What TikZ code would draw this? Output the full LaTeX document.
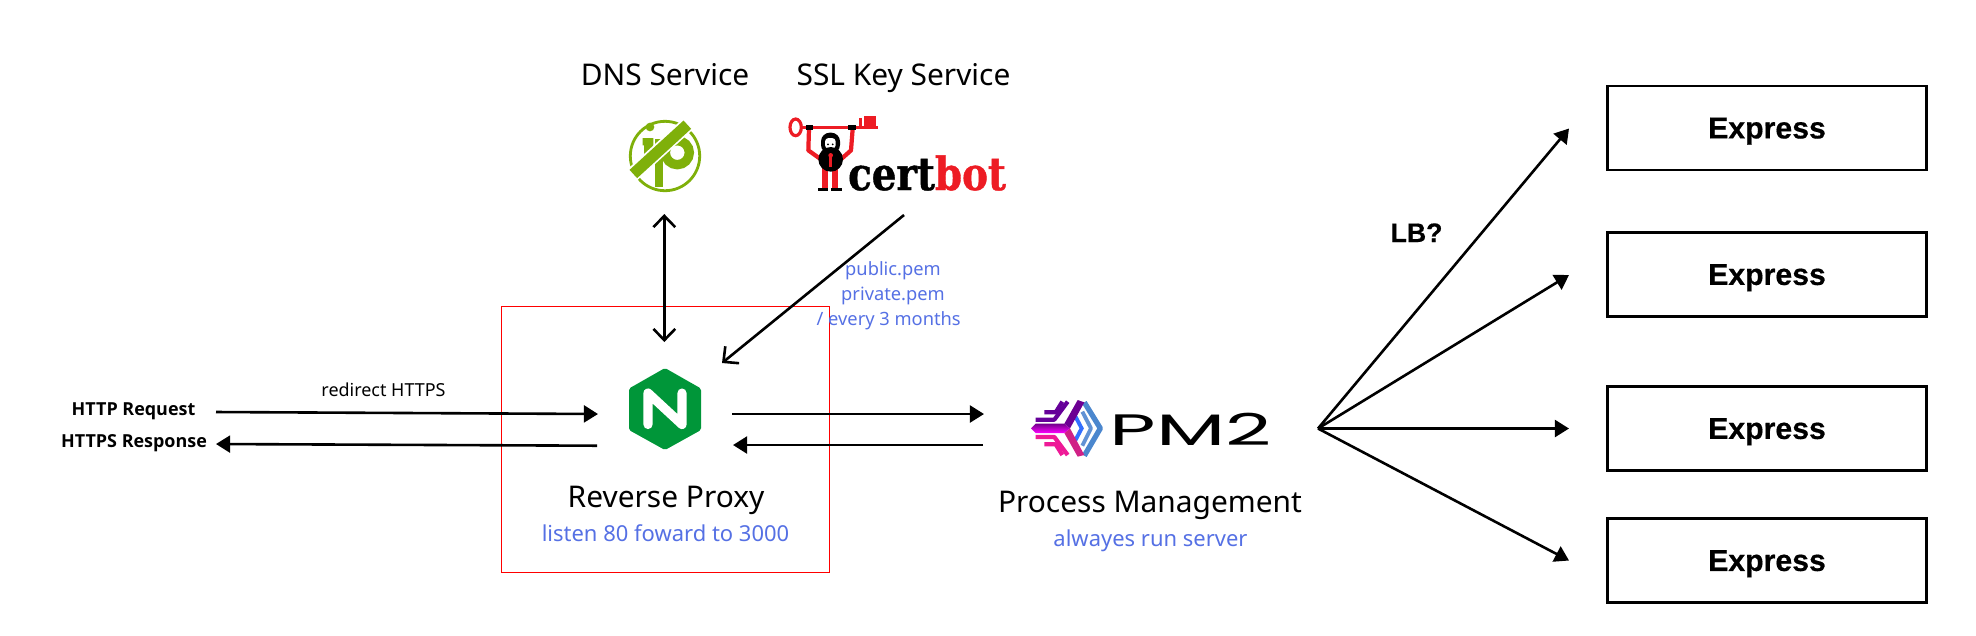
\documentclass[tikz,border=0pt]{standalone}
\usepackage{fontspec}
\usepackage{xcolor}
\setmainfont{Noto Sans}
\newfontfamily\sidefont{Open Sans}
\newfontfamily\boxfont{Liberation Sans}[BoldFeatures={FakeBold=.5}]
\newfontfamily\certfont{DejaVu Serif}[BoldFeatures={FakeBold=1}]
\newfontfamily\pmfont{Poppins}
\usetikzlibrary{arrows.meta}
\definecolor{noteblue}{HTML}{5570E4}
\definecolor{ngxgreen}{HTML}{009639}
\definecolor{ipgreen}{HTML}{7FB00A}
\definecolor{certred}{HTML}{ED1C24}
\tikzset{every node/.style={inner sep=0pt},
 title/.style={anchor=base,font=\fontsize{8.5}{10}\selectfont},
 note/.style={anchor=base,text=noteblue,font=\fontsize{6.25}{8}\selectfont},
 pemnote/.style={anchor=base,text=noteblue,font=\fontsize{5.2}{7}\selectfont},
 side/.style={anchor=base,font=\sidefont\bfseries\fontsize{5.1}{7}\selectfont},
 expressbox/.style={draw,line width=.72pt,minimum width=3.19cm,minimum height=.84cm,text depth=0pt,
  font=\boxfont\bfseries\fontsize{8.6}{10}\selectfont},
 wire/.style={line width=.74pt,-{Triangle[length=4pt,width=4.8pt]}},
 barb/.style={line width=.74pt,{Straight Barb[length=3.2pt,width=6.2pt]}-{Straight Barb[length=3.2pt,width=6.2pt]}},
 onebarb/.style={line width=.74pt,-{Straight Barb[length=3.2pt,width=6.2pt]}},
}

\begin{document}
\begin{tikzpicture}[x=.01cm,y=-.01cm]
        \useasboundingbox (0,0) rectangle (1976,635);
        % red frame round the proxy
        \node[draw=red,line width=.35pt,minimum width=3.275cm,minimum height=2.66cm] (proxyframe) at (665.5,439.5) {};
        % titles
        \node[title] (dnstitle) at (665,85) {DNS Service};
        \node[title] (ssltitle) at (903.5,85) {SSL Key Service};
        \node[title] (proxytitle) at (666,507.5) {Reverse Proxy};
        \node[note] (proxynote) at (665.5,541) {listen 80 foward to 3000};
        \node[title] (pmtitle) at (1150,512) {Process Management};
        \node[note] (pmnote) at (1150.5,546) {alwayes run server};
        \node[pemnote] (pubpem) at (893,275) {public.pem};
        \node[pemnote] (privpem) at (893,300) {private.pem};
        \node[pemnote] (renew) at (888.7,325) {/ every 3 months};
        \node[side] (httpreq) at (133.5,415.7) {HTTP Request};
        \node[side] (httpsres) at (134,447.7) {HTTPS Response};
        \node[anchor=base,font=\fontsize{5.1}{7}\selectfont] (redirect) at (383.5,396.7) {redirect HTTPS};
        \node[anchor=base,font=\boxfont\bfseries\fontsize{7.6}{9}\selectfont] (lblabel) at (1416.5,242) {LB?};
        % express boxes
        \node[expressbox] (expressa) at (1767,128) {Express};
        \node[expressbox] (expressb) at (1767,274.5) {Express};
        \node[expressbox] (expressc) at (1767,428.5) {Express};
        \node[expressbox] (expressd) at (1767,560.5) {Express};
        % arrow ends
        \coordinate (reqstart) at (216,412);
        \coordinate (reqend) at (598,414);
        \coordinate (resstart) at (597,445.7);
        \coordinate (resend) at (216,444);
        \coordinate (fwdstart) at (732,414);
        \coordinate (fwdend) at (984,414);
        \coordinate (backstart) at (983,445);
        \coordinate (backend) at (733,445);
        \coordinate (dnstop) at (664.3,214);
        \coordinate (dnsbottom) at (664.3,342);
        \coordinate (certstart) at (904,215);
        \coordinate (certend) at (722,363);
        \coordinate (fan) at (1318,428.5);
        \coordinate (fana) at (1569,128.5);
        \coordinate (fanb) at (1569,275);
        \coordinate (fanc) at (1569,428.5);
        \coordinate (fand) at (1569,560.5);
        \draw[wire] (reqstart) -- (reqend);
        \draw[wire] (resstart) -- (resend);
        \draw[wire] (fwdstart) -- (fwdend);
        \draw[wire] (backstart) -- (backend);
        \draw[barb] (dnstop) -- (dnsbottom);
        \draw[onebarb] (certstart) -- (certend);
        \draw[wire] (fan) -- (fana);
        \draw[wire] (fan) -- (fanb);
        \draw[wire] (fan) -- (fanc);
        \draw[wire] (fan) -- (fand);
        % nginx logo
        \fill[ngxgreen,rounded corners=.5pt] (665,368) -- (701,388.5) -- (701,430) -- (665,450) -- (629,430) -- (629,388.5) -- cycle;
        \draw[white,line width=2.6pt,line cap=round,line join=round] (648,424.5) -- (648,393) -- (682,424.5) -- (682,393);
        % ip logo
        \draw[ipgreen,line width=.8pt] (665,156) circle (34.7);
        \begin{scope}[shift={(620,112)},scale=1/3]
                \fill[ipgreen] (90,45) circle (13);
                \fill[ipgreen] (68,78) -- (100,78) -- (100,145) -- (72,145) -- (72,100) -- (68,100) -- cycle;
                \fill[ipgreen] (105,80) -- (130,80) -- (130,225) -- (105,225) -- cycle;
                \draw[ipgreen,line width=2.65pt] (172,122) circle (36);
                \draw[white,line width=4.2pt] (205,35) -- (35,190);
                \draw[ipgreen,line width=3.2pt] (202,38) -- (40,186);
        \end{scope}
        % certbot logo
        \begin{scope}[shift={(785,112)},scale=1/3]
                \draw[certred,line width=.9pt] (32,46) ellipse (17 and 25);
                \fill[certred] (48,41) rectangle (280,51);
                \fill[certred] (238,12) rectangle (272,46);
                \fill[certred] (222,18) rectangle (232,46);
                \draw[certred,line width=1.2pt,line join=round] (72,50) -- (70,115) -- (105,140);
                \draw[certred,line width=1.2pt,line join=round] (203,50) -- (198,115) -- (170,140);
                \fill[black] (62,38) rectangle (84,55);
                \fill[black] (190,38) rectangle (212,55);
                \fill[certred] (110,165) rectangle (128,230);
                \fill[certred] (141,165) rectangle (160,230);
                \fill[black] (100,228) rectangle (130,236);
                \fill[black] (138,228) rectangle (170,236);
                \fill[black,rounded corners=2.5pt] (108,125) -- (108,62) -- (165,62) -- (165,125) -- cycle;
                \fill[white,rounded corners=1pt] (120,110) -- (120,78) -- (152,78) -- (152,110) -- cycle;
                \fill[black] (129,97) circle (3) (143,97) circle (3);
                \fill[black] (137,142) circle (37);
                \fill[certred] (137,130) circle (7);
                \fill[certred] (133,130) rectangle (141,165);
        \end{scope}
        \node[anchor=base west,font=\certfont\bfseries\fontsize{13}{15}\selectfont,xscale=.85] (certbot) at (847.5,190) {cert\textcolor{certred}{bot}};
        % pm2 logo
        \begin{scope}[shift={(1025,395)},scale=1/3]
                \draw[cyan!50!blue!75!white,line width=1.5pt,line join=round] (178,22) -- (226,100) -- (178,182);
                \draw[cyan!50!blue!65!white,line width=1.1pt,line join=round] (172,50) -- (198,100) -- (172,152);
                \draw[blue!70!cyan!80!white,line width=1.1pt] (150,62) -- (170,100) -- (150,138);
                \draw[violet!80!blue,line width=1.2pt,line join=round] (32,74) -- (88,74) -- (128,20);
                \draw[violet!80!blue,line width=1.2pt,line join=round] (58,52) -- (92,52) -- (112,20);
                \draw[magenta!90!white,line width=1.2pt,line join=round] (32,126) -- (88,126) -- (128,180);
                \draw[magenta!90!white,line width=1.2pt,line join=round] (58,148) -- (92,148) -- (112,180);
                \fill[violet!85!blue] (118,86) -- (158,15) -- (178,22) -- (135,100) -- cycle;
                \fill[magenta!70!violet] (118,114) -- (158,185) -- (178,180) -- (135,100) -- cycle;
                \path[top color=violet!90!blue,bottom color=magenta] (18,100) -- (32,86) -- (118,86) -- (135,100) -- (118,114) -- (32,114) -- cycle;
        \end{scope}
        \node[font=\pmfont\fontsize{12.5}{14}\selectfont,xscale=1.83] (pmname) at (1191,429) {PM2};
    \end{tikzpicture}
\end{document}
